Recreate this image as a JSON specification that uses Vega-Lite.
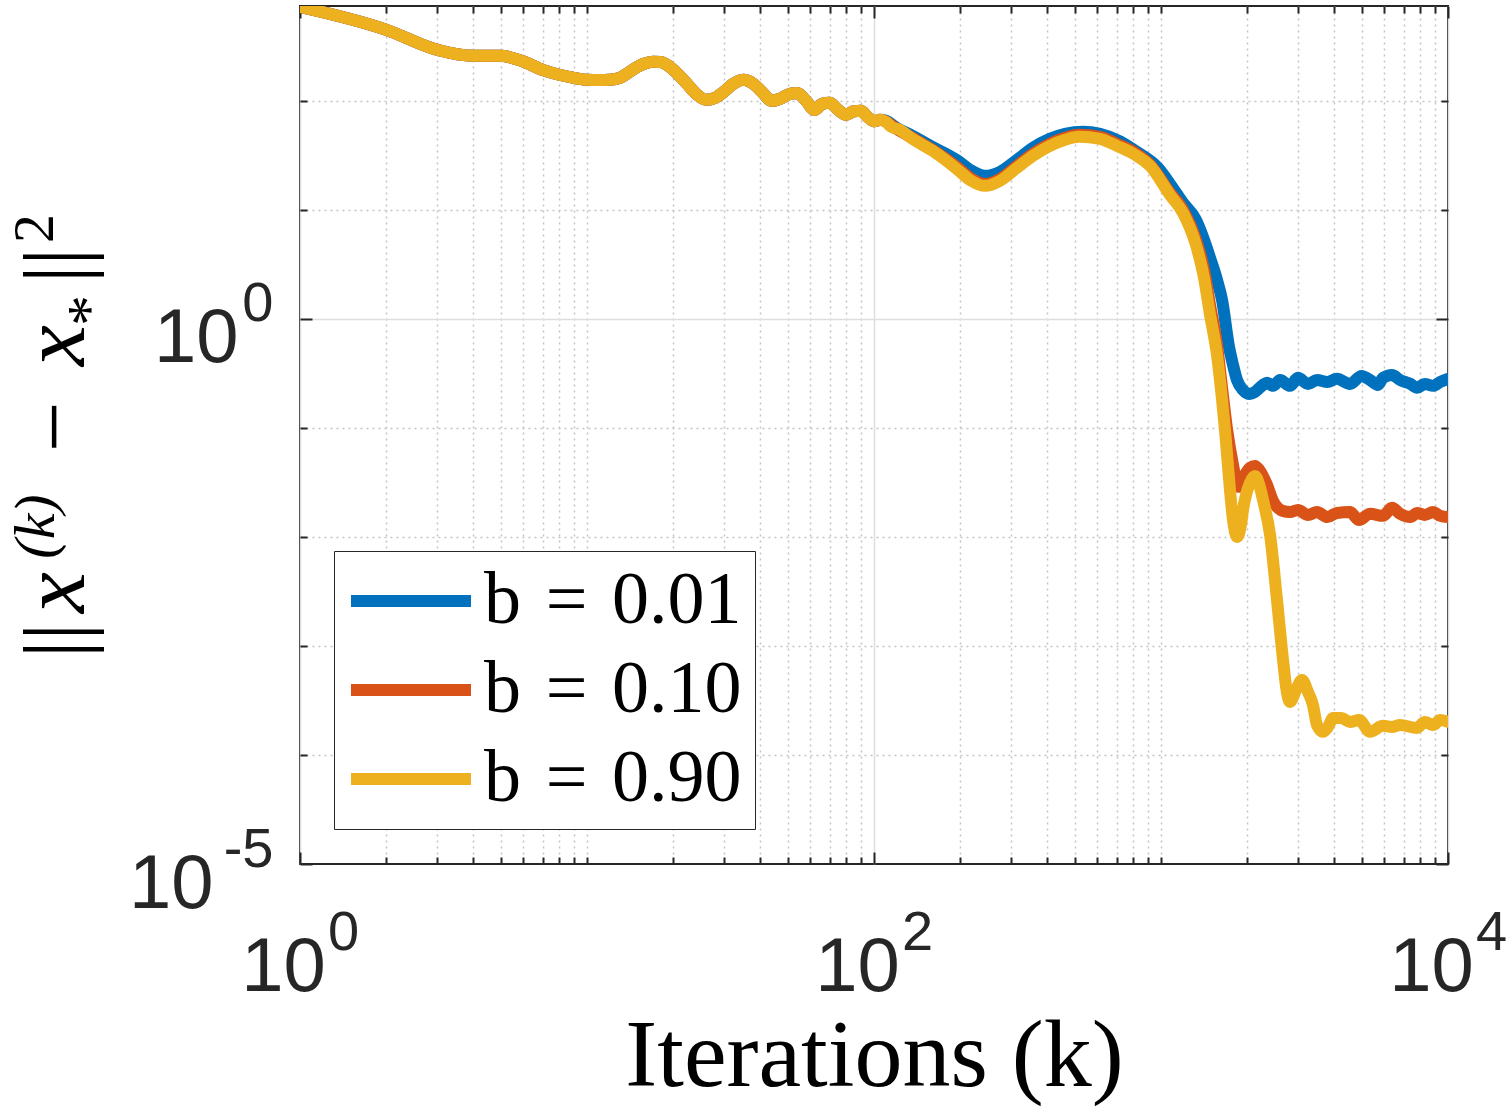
{
  "$schema": "https://vega.github.io/schema/vega-lite/v6.json",
  "width": 1148,
  "height": 858,
  "autosize": {"type": "none"},
  "padding": {"left": 300, "top": 6, "right": 61, "bottom": 243},
  "background": "white",
  "config": {
    "view": {"stroke": "#262626", "strokeWidth": 2},
    "axis": {
      "labelFont": "Liberation Sans", "labelColor": "#262626", "labelFlush": false,
      "labelOverlap": false, "labelBound": false, "labelLimit": 0,
      "domain": false, "ticks": false, "grid": false,
      "tickColor": "#262626", "tickWidth": 2,
      "titleFont": "Liberation Serif", "titleFontWeight": "normal", "titleColor": "#000000",
      "titleLimit": 0
    }
  },
  "datasets": {
    "dummy": [{"k": 1, "e": 1}]
  },
  "layer": [
    {
      "data": {"values": [
        {"k":1,"e":728,"s":"b = 0.01"},{"k":2,"e":447.7,"s":"b = 0.01"},{"k":3,"e":293.8,"s":"b = 0.01"},{"k":4,"e":258.8,"s":"b = 0.01"},{"k":5,"e":258.8,"s":"b = 0.01"},
        {"k":6,"e":229.6,"s":"b = 0.01"},{"k":7,"e":192.3,"s":"b = 0.01"},{"k":8,"e":173.4,"s":"b = 0.01"},{"k":9,"e":162.6,"s":"b = 0.01"},{"k":10,"e":156.0,"s":"b = 0.01"},
        {"k":11,"e":154.9,"s":"b = 0.01"},{"k":12,"e":156.0,"s":"b = 0.01"},{"k":13,"e":162.2,"s":"b = 0.01"},{"k":14,"e":182.8,"s":"b = 0.01"},{"k":15,"e":205.1,"s":"b = 0.01"},
        {"k":16,"e":220.8,"s":"b = 0.01"},{"k":17,"e":228.0,"s":"b = 0.01"},{"k":18,"e":227.0,"s":"b = 0.01"},{"k":19,"e":213.8,"s":"b = 0.01"},{"k":20,"e":192.3,"s":"b = 0.01"},
        {"k":22,"e":149.3,"s":"b = 0.01"},{"k":24,"e":115.9,"s":"b = 0.01"},{"k":26,"e":102.1,"s":"b = 0.01"},{"k":28,"e":106.7,"s":"b = 0.01"},{"k":30,"e":121.1,"s":"b = 0.01"},
        {"k":32,"e":140.3,"s":"b = 0.01"},{"k":35,"e":156.0,"s":"b = 0.01"},{"k":38,"e":143.2,"s":"b = 0.01"},{"k":41,"e":118.3,"s":"b = 0.01"},{"k":44,"e":100,"s":"b = 0.01"},
        {"k":47,"e":104.3,"s":"b = 0.01"},{"k":51,"e":115.9,"s":"b = 0.01"},{"k":54,"e":117.8,"s":"b = 0.01"},{"k":58,"e":100,"s":"b = 0.01"},{"k":62,"e":82.6,"s":"b = 0.01"},
        {"k":66,"e":93.8,"s":"b = 0.01"},{"k":70,"e":95.9,"s":"b = 0.01"},{"k":75,"e":82.6,"s":"b = 0.01"},{"k":80,"e":74.5,"s":"b = 0.01"},{"k":85,"e":80.2,"s":"b = 0.01"},
        {"k":90,"e":80.9,"s":"b = 0.01"},{"k":95,"e":71.3,"s":"b = 0.01"},{"k":100,"e":64.9,"s":"b = 0.01"},{"k":105,"e":67.0,"s":"b = 0.01"},
        {"k":110,"e":65.6,"s":"b = 0.01"},{"k":120,"e":56.5,"s":"b = 0.01"},{"k":136,"e":47.8,"s":"b = 0.01"},{"k":160,"e":37.8,"s":"b = 0.01"},{"k":196,"e":28.2,"s":"b = 0.01"},
        {"k":216,"e":23.3,"s":"b = 0.01"},{"k":244,"e":20.5,"s":"b = 0.01"},{"k":275,"e":22.3,"s":"b = 0.01"},{"k":315,"e":28.8,"s":"b = 0.01"},{"k":358,"e":37.1,"s":"b = 0.01"},
        {"k":410,"e":44.8,"s":"b = 0.01"},{"k":463,"e":49.8,"s":"b = 0.01"},{"k":535,"e":52.0,"s":"b = 0.01"},{"k":613,"e":49.8,"s":"b = 0.01"},{"k":725,"e":42.1,"s":"b = 0.01"},
        {"k":812,"e":34.8,"s":"b = 0.01"},{"k":976,"e":24.3,"s":"b = 0.01"},{"k":1075,"e":17.3,"s":"b = 0.01"},{"k":1193,"e":11.6,"s":"b = 0.01"},{"k":1324,"e":8.09,"s":"b = 0.01"},
        {"k":1412,"e":5.31,"s":"b = 0.01"},{"k":1482,"e":3.63,"s":"b = 0.01"},{"k":1567,"e":2.28,"s":"b = 0.01"},{"k":1632,"e":1.49,"s":"b = 0.01"},{"k":1726,"e":0.553,"s":"b = 0.01"},
        {"k":1782,"e":0.378,"s":"b = 0.01"},{"k":1840,"e":0.275,"s":"b = 0.01"},{"k":1931,"e":0.223,"s":"b = 0.01"},{"k":2042,"e":0.205,"s":"b = 0.01"},{"k":2126,"e":0.214,"s":"b = 0.01"},
        {"k":2267,"e":0.248,"s":"b = 0.01"},{"k":2341,"e":0.259,"s":"b = 0.01"},{"k":2456,"e":0.243,"s":"b = 0.01"},{"k":2600,"e":0.275,"s":"b = 0.01"},{"k":2815,"e":0.243,"s":"b = 0.01"},
        {"k":3000,"e":0.288,"s":"b = 0.01"},{"k":3252,"e":0.253,"s":"b = 0.01"},{"k":3496,"e":0.275,"s":"b = 0.01"},{"k":3800,"e":0.264,"s":"b = 0.01"},{"k":4100,"e":0.282,"s":"b = 0.01"},
        {"k":4556,"e":0.253,"s":"b = 0.01"},{"k":5000,"e":0.300,"s":"b = 0.01"},{"k":5348,"e":0.275,"s":"b = 0.01"},{"k":5700,"e":0.248,"s":"b = 0.01"},{"k":5935,"e":0.288,"s":"b = 0.01"},
        {"k":6380,"e":0.306,"s":"b = 0.01"},{"k":6805,"e":0.275,"s":"b = 0.01"},{"k":7400,"e":0.253,"s":"b = 0.01"},{"k":7798,"e":0.233,"s":"b = 0.01"},{"k":8300,"e":0.253,"s":"b = 0.01"},
        {"k":8867,"e":0.243,"s":"b = 0.01"},{"k":9400,"e":0.264,"s":"b = 0.01"},{"k":10000,"e":0.282,"s":"b = 0.01"},

        {"k":1,"e":728,"s":"b = 0.10"},{"k":2,"e":447.7,"s":"b = 0.10"},{"k":3,"e":293.8,"s":"b = 0.10"},{"k":4,"e":258.8,"s":"b = 0.10"},{"k":5,"e":258.8,"s":"b = 0.10"},
        {"k":6,"e":229.6,"s":"b = 0.10"},{"k":7,"e":192.3,"s":"b = 0.10"},{"k":8,"e":173.4,"s":"b = 0.10"},{"k":9,"e":162.6,"s":"b = 0.10"},{"k":10,"e":156.0,"s":"b = 0.10"},
        {"k":11,"e":154.9,"s":"b = 0.10"},{"k":12,"e":156.0,"s":"b = 0.10"},{"k":13,"e":162.2,"s":"b = 0.10"},{"k":14,"e":182.8,"s":"b = 0.10"},{"k":15,"e":205.1,"s":"b = 0.10"},
        {"k":16,"e":220.8,"s":"b = 0.10"},{"k":17,"e":228.0,"s":"b = 0.10"},{"k":18,"e":227.0,"s":"b = 0.10"},{"k":19,"e":213.8,"s":"b = 0.10"},{"k":20,"e":192.3,"s":"b = 0.10"},
        {"k":22,"e":149.3,"s":"b = 0.10"},{"k":24,"e":115.9,"s":"b = 0.10"},{"k":26,"e":102.1,"s":"b = 0.10"},{"k":28,"e":106.7,"s":"b = 0.10"},{"k":30,"e":121.1,"s":"b = 0.10"},
        {"k":32,"e":140.3,"s":"b = 0.10"},{"k":35,"e":156.0,"s":"b = 0.10"},{"k":38,"e":143.2,"s":"b = 0.10"},{"k":41,"e":118.3,"s":"b = 0.10"},{"k":44,"e":100,"s":"b = 0.10"},
        {"k":47,"e":104.3,"s":"b = 0.10"},{"k":51,"e":115.9,"s":"b = 0.10"},{"k":54,"e":117.8,"s":"b = 0.10"},{"k":58,"e":100,"s":"b = 0.10"},{"k":62,"e":82.6,"s":"b = 0.10"},
        {"k":66,"e":93.8,"s":"b = 0.10"},{"k":70,"e":95.9,"s":"b = 0.10"},{"k":75,"e":82.6,"s":"b = 0.10"},{"k":80,"e":74.5,"s":"b = 0.10"},{"k":85,"e":80.2,"s":"b = 0.10"},
        {"k":90,"e":80.9,"s":"b = 0.10"},{"k":95,"e":71.3,"s":"b = 0.10"},{"k":100,"e":64.9,"s":"b = 0.10"},{"k":105,"e":67.0,"s":"b = 0.10"},
        {"k":110,"e":64.5,"s":"b = 0.10"},{"k":120,"e":55.3,"s":"b = 0.10"},{"k":136,"e":45.8,"s":"b = 0.10"},{"k":160,"e":35.5,"s":"b = 0.10"},{"k":196,"e":24.3,"s":"b = 0.10"},
        {"k":216,"e":19.7,"s":"b = 0.10"},{"k":244,"e":17.3,"s":"b = 0.10"},{"k":275,"e":19.2,"s":"b = 0.10"},{"k":315,"e":25.3,"s":"b = 0.10"},{"k":358,"e":32.7,"s":"b = 0.10"},
        {"k":410,"e":40.3,"s":"b = 0.10"},{"k":463,"e":45.8,"s":"b = 0.10"},{"k":518,"e":48.8,"s":"b = 0.10"},{"k":613,"e":46.8,"s":"b = 0.10"},{"k":702,"e":40.3,"s":"b = 0.10"},
        {"k":812,"e":33.3,"s":"b = 0.10"},{"k":916,"e":26.0,"s":"b = 0.10"},{"k":1075,"e":14.3,"s":"b = 0.10"},{"k":1193,"e":10.0,"s":"b = 0.10"},{"k":1324,"e":5.31,"s":"b = 0.10"},
        {"k":1412,"e":2.82,"s":"b = 0.10"},{"k":1482,"e":1.34,"s":"b = 0.10"},{"k":1567,"e":0.577,"s":"b = 0.10"},{"k":1632,"e":0.233,"s":"b = 0.10"},{"k":1700,"e":0.0959,"s":"b = 0.10"},
        {"k":1782,"e":0.0458,"s":"b = 0.10"},{"k":1855,"e":0.0288,"s":"b = 0.10"},{"k":1931,"e":0.0348,"s":"b = 0.10"},{"k":2042,"e":0.0430,"s":"b = 0.10"},{"k":2126,"e":0.0448,"s":"b = 0.10"},
        {"k":2200,"e":0.0412,"s":"b = 0.10"},{"k":2341,"e":0.030,"s":"b = 0.10"},{"k":2456,"e":0.0214,"s":"b = 0.10"},{"k":2662,"e":0.0173,"s":"b = 0.10"},{"k":2815,"e":0.0169,"s":"b = 0.10"},
        {"k":3000,"e":0.0177,"s":"b = 0.10"},{"k":3252,"e":0.0159,"s":"b = 0.10"},{"k":3496,"e":0.0169,"s":"b = 0.10"},{"k":3800,"e":0.0152,"s":"b = 0.10"},{"k":4100,"e":0.0166,"s":"b = 0.10"},
        {"k":4556,"e":0.0169,"s":"b = 0.10"},{"k":4900,"e":0.0143,"s":"b = 0.10"},{"k":5348,"e":0.0163,"s":"b = 0.10"},{"k":5935,"e":0.0156,"s":"b = 0.10"},{"k":6380,"e":0.0185,"s":"b = 0.10"},
        {"k":6805,"e":0.0163,"s":"b = 0.10"},{"k":7400,"e":0.0152,"s":"b = 0.10"},{"k":7798,"e":0.0166,"s":"b = 0.10"},{"k":8300,"e":0.0159,"s":"b = 0.10"},{"k":8867,"e":0.0169,"s":"b = 0.10"},
        {"k":9400,"e":0.0156,"s":"b = 0.10"},{"k":10000,"e":0.0152,"s":"b = 0.10"},

        {"k":1,"e":728,"s":"b = 0.90"},{"k":2,"e":447.7,"s":"b = 0.90"},{"k":3,"e":293.8,"s":"b = 0.90"},{"k":4,"e":258.8,"s":"b = 0.90"},{"k":5,"e":258.8,"s":"b = 0.90"},
        {"k":6,"e":229.6,"s":"b = 0.90"},{"k":7,"e":192.3,"s":"b = 0.90"},{"k":8,"e":173.4,"s":"b = 0.90"},{"k":9,"e":162.6,"s":"b = 0.90"},{"k":10,"e":156.0,"s":"b = 0.90"},
        {"k":11,"e":154.9,"s":"b = 0.90"},{"k":12,"e":156.0,"s":"b = 0.90"},{"k":13,"e":162.2,"s":"b = 0.90"},{"k":14,"e":182.8,"s":"b = 0.90"},{"k":15,"e":205.1,"s":"b = 0.90"},
        {"k":16,"e":220.8,"s":"b = 0.90"},{"k":17,"e":228.0,"s":"b = 0.90"},{"k":18,"e":227.0,"s":"b = 0.90"},{"k":19,"e":213.8,"s":"b = 0.90"},{"k":20,"e":192.3,"s":"b = 0.90"},
        {"k":22,"e":149.3,"s":"b = 0.90"},{"k":24,"e":115.9,"s":"b = 0.90"},{"k":26,"e":102.1,"s":"b = 0.90"},{"k":28,"e":106.7,"s":"b = 0.90"},{"k":30,"e":121.1,"s":"b = 0.90"},
        {"k":32,"e":140.3,"s":"b = 0.90"},{"k":35,"e":156.0,"s":"b = 0.90"},{"k":38,"e":143.2,"s":"b = 0.90"},{"k":41,"e":118.3,"s":"b = 0.90"},{"k":44,"e":100,"s":"b = 0.90"},
        {"k":47,"e":104.3,"s":"b = 0.90"},{"k":51,"e":115.9,"s":"b = 0.90"},{"k":54,"e":117.8,"s":"b = 0.90"},{"k":58,"e":100,"s":"b = 0.90"},{"k":62,"e":82.6,"s":"b = 0.90"},
        {"k":66,"e":93.8,"s":"b = 0.90"},{"k":70,"e":95.9,"s":"b = 0.90"},{"k":75,"e":82.6,"s":"b = 0.90"},{"k":80,"e":74.5,"s":"b = 0.90"},{"k":85,"e":80.2,"s":"b = 0.90"},
        {"k":90,"e":80.9,"s":"b = 0.90"},{"k":95,"e":71.3,"s":"b = 0.90"},{"k":100,"e":64.9,"s":"b = 0.90"},{"k":105,"e":67.0,"s":"b = 0.90"},
        {"k":110,"e":64.1,"s":"b = 0.90"},{"k":115,"e":57.7,"s":"b = 0.90"},{"k":123,"e":54.2,"s":"b = 0.90"},{"k":136,"e":44.8,"s":"b = 0.90"},{"k":160,"e":34.8,"s":"b = 0.90"},
        {"k":196,"e":23.3,"s":"b = 0.90"},{"k":216,"e":18.8,"s":"b = 0.90"},{"k":244,"e":16.6,"s":"b = 0.90"},{"k":275,"e":18.5,"s":"b = 0.90"},{"k":315,"e":24.3,"s":"b = 0.90"},
        {"k":358,"e":31.3,"s":"b = 0.90"},{"k":410,"e":38.6,"s":"b = 0.90"},{"k":463,"e":43.9,"s":"b = 0.90"},{"k":518,"e":46.8,"s":"b = 0.90"},{"k":613,"e":44.8,"s":"b = 0.90"},
        {"k":702,"e":38.6,"s":"b = 0.90"},{"k":812,"e":32.0,"s":"b = 0.90"},{"k":916,"e":25.3,"s":"b = 0.90"},{"k":1075,"e":13.7,"s":"b = 0.90"},{"k":1193,"e":9.38,"s":"b = 0.90"},
        {"k":1324,"e":4.77,"s":"b = 0.90"},{"k":1412,"e":2.38,"s":"b = 0.90"},{"k":1482,"e":1.09,"s":"b = 0.90"},{"k":1567,"e":0.468,"s":"b = 0.90"},{"k":1632,"e":0.181,"s":"b = 0.90"},
        {"k":1671,"e":0.0959,"s":"b = 0.90"},{"k":1739,"e":0.027,"s":"b = 0.90"},{"k":1782,"e":0.0143,"s":"b = 0.90"},{"k":1840,"e":0.01,"s":"b = 0.90"},{"k":1900,"e":0.0129,"s":"b = 0.90"},
        {"k":1931,"e":0.0177,"s":"b = 0.90"},{"k":2042,"e":0.0313,"s":"b = 0.90"},{"k":2126,"e":0.0363,"s":"b = 0.90"},{"k":2200,"e":0.030,"s":"b = 0.90"},{"k":2267,"e":0.0218,"s":"b = 0.90"},
        {"k":2400,"e":0.0104,"s":"b = 0.90"},{"k":2536,"e":0.00264,"s":"b = 0.90"},{"k":2662,"e":0.000744,"s":"b = 0.90"},{"k":2748,"e":0.000371,"s":"b = 0.90"},{"k":2815,"e":0.000306,"s":"b = 0.90"},
        {"k":2954,"e":0.000394,"s":"b = 0.90"},{"k":3100,"e":0.000488,"s":"b = 0.90"},{"k":3252,"e":0.000378,"s":"b = 0.90"},{"k":3384,"e":0.000288,"s":"b = 0.90"},{"k":3496,"e":0.000188,"s":"b = 0.90"},
        {"k":3668,"e":0.000163,"s":"b = 0.90"},{"k":3820,"e":0.000181,"s":"b = 0.90"},{"k":3976,"e":0.000218,"s":"b = 0.90"},{"k":4250,"e":0.000218,"s":"b = 0.90"},{"k":4556,"e":0.000201,"s":"b = 0.90"},
        {"k":4900,"e":0.000209,"s":"b = 0.90"},{"k":5348,"e":0.000163,"s":"b = 0.90"},{"k":5935,"e":0.000185,"s":"b = 0.90"},{"k":6380,"e":0.000181,"s":"b = 0.90"},{"k":6805,"e":0.000188,"s":"b = 0.90"},
        {"k":7798,"e":0.000177,"s":"b = 0.90"},{"k":8300,"e":0.000201,"s":"b = 0.90"},{"k":8867,"e":0.000188,"s":"b = 0.90"},{"k":9400,"e":0.000209,"s":"b = 0.90"},{"k":10000,"e":0.000201,"s":"b = 0.90"}
      ]},
      "mark": {"type": "line", "strokeWidth": 12, "strokeJoin": "round", "strokeCap": "round", "interpolate": "monotone", "clip": true},
      "encoding": {
        "x": {"field": "k", "type": "quantitative",
          "scale": {"type": "log", "domain": [1, 10000], "nice": false},
          "axis": {"orient": "bottom", "values": [1, 100, 10000], "labelExpr": "'10'",
            "labelFontSize": 76, "labelBaseline": "alphabetic", "labelAlign": "center",
            "labelPadding": 126, "labelOffset": -17,
            "grid": true, "gridColor": "#dedede", "gridWidth": 1.5,
            "title": "Iterations (k)", "titleFontSize": 96, "titleBaseline": "alphabetic",
            "titleAlign": "center", "titleX": 574, "titleY": 221}},
        "y": {"field": "e", "type": "quantitative",
          "scale": {"type": "log", "domain": [0.00001, 741], "nice": false},
          "axis": {"orient": "left", "values": [1], "labelExpr": "'10'",
            "labelFontSize": 76, "labelAlign": "right", "labelBaseline": "alphabetic",
            "labelPadding": 62, "labelOffset": 43,
            "grid": true, "gridColor": "#dedede", "gridWidth": 1.5,
            "title": "||", "titleFontSize": 88,
            "titleAngle": -90, "titleBaseline": "alphabetic", "titleAlign": "center",
            "titleX": -216, "titleY": 634}},
        "color": {"field": "s", "type": "nominal",
          "scale": {"domain": ["b = 0.01", "b = 0.10", "b = 0.90"], "range": ["#0072BD", "#D95319", "#EDB120"]},
          "legend": {"orient": "none", "legendX": 34, "legendY": 545, "title": null,
            "labelExpr": "replace(replace(datum.label, ' = ', '\u2004=\u2004'), ' ', '')",
            "symbolType": "M-2,0H2", "symbolSize": 3600, "symbolStrokeWidth": 12, "symbolOffset": 27,
            "labelFont": "Liberation Serif", "labelFontSize": 74, "labelColor": "#000000",
            "labelOffset": 36, "labelLimit": 0, "padding": 13, "rowPadding": 15,
            "strokeColor": "#262626", "fillColor": "#ffffff"}}
      }
    },
    {
      "data": {"name": "dummy"},
      "mark": {"type": "point", "opacity": 0, "size": 0},
      "encoding": {
        "x": {"field": "k", "type": "quantitative", "scale": {"type": "log", "domain": [1, 10000], "nice": false},
          "axis": {"orient": "bottom", "values": [1, 100, 10000],
            "labelExpr": "datum.value < 10 ? '0' : (datum.value < 1000 ? '2' : '4')",
            "labelFontSize": 56, "labelBaseline": "alphabetic", "labelAlign": "center",
            "labelPadding": 85, "labelOffset": 43,
            "title": "2", "titleFontSize": 58, "titleAngle": -90, "titleBaseline": "alphabetic",
            "titleAlign": "center", "titleX": -248, "titleY": -636}},
        "y": {"field": "e", "type": "quantitative", "scale": {"type": "log", "domain": [0.00001, 741], "nice": false},
          "axis": {"orient": "left", "values": [0.00001], "labelExpr": "'10'",
            "labelFontSize": 76, "labelAlign": "right", "labelBaseline": "alphabetic",
            "labelPadding": 87, "labelOffset": 43,
            "title": "x", "titleFontSize": 92, "titleFontStyle": "italic",
            "titleAngle": -90, "titleBaseline": "alphabetic", "titleAlign": "center",
            "titleX": -217, "titleY": 586}}
      }
    },
    {
      "data": {"name": "dummy"},
      "mark": {"type": "point", "opacity": 0, "size": 0},
      "encoding": {
        "x": {"field": "k", "type": "quantitative", "scale": {"type": "log", "domain": [1, 10000], "nice": false},
          "axis": {"orient": "bottom", "values": [1, 100, 10000], "labels": false, "ticks": true, "tickSize": -12, "title": null}},
        "y": {"field": "e", "type": "quantitative", "scale": {"type": "log", "domain": [0.00001, 741], "nice": false},
          "axis": {"orient": "left", "values": [0.00001, 1],
            "labelExpr": "datum.value < 0.001 ? '-5' : '0'",
            "labelFontSize": 56, "labelAlign": "right", "labelBaseline": "alphabetic",
            "labelPadding": 27, "labelOffset": 2,
            "title": "(k)", "titleFontSize": 58, "titleFontStyle": "italic",
            "titleAngle": -90, "titleBaseline": "alphabetic", "titleAlign": "center",
            "titleX": -247, "titleY": 520}}
      }
    },
    {
      "data": {"name": "dummy"},
      "mark": {"type": "point", "opacity": 0, "size": 0},
      "encoding": {
        "x": {"field": "k", "type": "quantitative", "scale": {"type": "log", "domain": [1, 10000], "nice": false},
          "axis": {"orient": "bottom", "values": [2,3,4,5,6,7,8,9,10,20,30,40,50,60,70,80,90,200,300,400,500,600,700,800,900,1000,2000,3000,4000,5000,6000,7000,8000,9000],
            "labels": false, "ticks": true, "tickSize": -7,
            "grid": true, "gridColor": "#c4c4c4", "gridWidth": 1.5, "gridDash": [2, 4], "title": null}},
        "y": {"field": "e", "type": "quantitative", "scale": {"type": "log", "domain": [0.00001, 741], "nice": false},
          "axis": {"orient": "left", "values": [0.00001, 1], "labels": false, "ticks": true, "tickSize": -12,
            "title": "−", "titleFontSize": 90,
            "titleAngle": -90, "titleBaseline": "alphabetic", "titleAlign": "center",
            "titleX": -217, "titleY": 420}}
      }
    },
    {
      "data": {"name": "dummy"},
      "mark": {"type": "point", "opacity": 0, "size": 0},
      "encoding": {
        "x": {"field": "k", "type": "quantitative", "scale": {"type": "log", "domain": [1, 10000], "nice": false},
          "axis": {"orient": "top", "values": [1, 100, 10000], "labels": false, "ticks": true, "tickSize": -12, "title": null}},
        "y": {"field": "e", "type": "quantitative", "scale": {"type": "log", "domain": [0.00001, 741], "nice": false},
          "axis": {"orient": "left", "values": [0.0001, 0.001, 0.01, 0.1, 10, 100],
            "labels": false, "ticks": true, "tickSize": -7,
            "grid": true, "gridColor": "#c4c4c4", "gridWidth": 1.5, "gridDash": [2, 4],
            "title": "x", "titleFontSize": 92, "titleFontStyle": "italic",
            "titleAngle": -90, "titleBaseline": "alphabetic", "titleAlign": "center",
            "titleX": -217, "titleY": 339}}
      }
    },
    {
      "data": {"name": "dummy"},
      "mark": {"type": "point", "opacity": 0, "size": 0},
      "encoding": {
        "x": {"field": "k", "type": "quantitative", "scale": {"type": "log", "domain": [1, 10000], "nice": false},
          "axis": {"orient": "top", "values": [2,3,4,5,6,7,8,9,10,20,30,40,50,60,70,80,90,200,300,400,500,600,700,800,900,1000,2000,3000,4000,5000,6000,7000,8000,9000],
            "labels": false, "ticks": true, "tickSize": -7, "title": null}},
        "y": {"field": "e", "type": "quantitative", "scale": {"type": "log", "domain": [0.00001, 741], "nice": false},
          "axis": {"orient": "right", "values": [0.00001, 1], "labels": false, "ticks": true, "tickSize": -12,
            "title": "*", "titleFontSize": 62,
            "titleAngle": -90, "titleBaseline": "alphabetic", "titleAlign": "center",
            "titleX": -1340, "titleY": 304}}
      }
    },
    {
      "data": {"name": "dummy"},
      "mark": {"type": "point", "opacity": 0, "size": 0},
      "encoding": {
        "x": {"field": "k", "type": "quantitative", "scale": {"type": "log", "domain": [1, 10000], "nice": false}, "axis": null},
        "y": {"field": "e", "type": "quantitative", "scale": {"type": "log", "domain": [0.00001, 741], "nice": false},
          "axis": {"orient": "right", "values": [0.0001, 0.001, 0.01, 0.1, 10, 100], "labels": false, "ticks": true, "tickSize": -7,
            "title": "||", "titleFontSize": 88,
            "titleAngle": -90, "titleBaseline": "alphabetic", "titleAlign": "center",
            "titleX": -1364, "titleY": 259}}
      }
    }
  ],
  "resolve": {"axis": {"x": "independent", "y": "independent"}}
}
